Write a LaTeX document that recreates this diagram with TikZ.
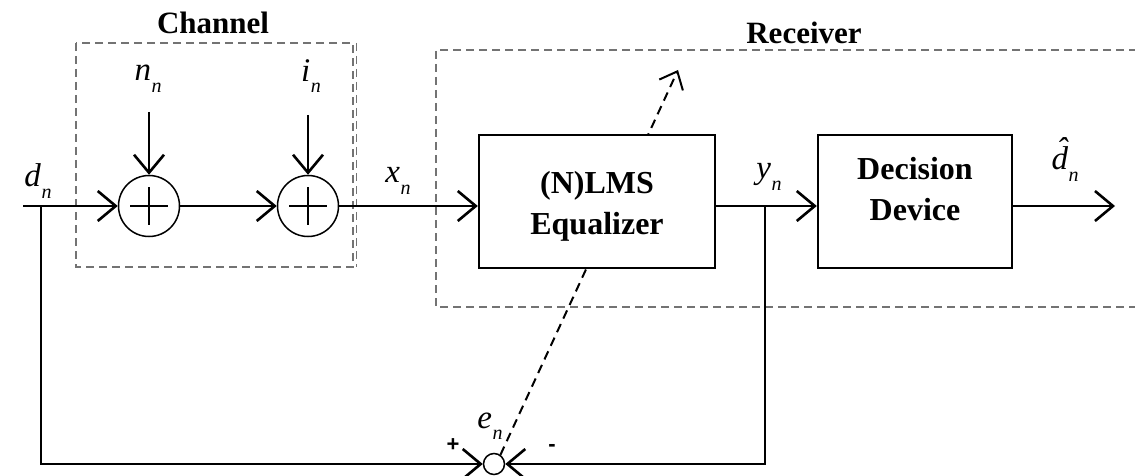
\documentclass[tikz,border=0pt]{standalone}
\usepackage{fontspec}
\setmainfont{Liberation Serif}
\newfontfamily\sansf{Liberation Sans}
\usetikzlibrary{arrows.meta}
\newcommand\lbl[2]{\textit{#1}\kern0.5pt\raisebox{-0.35em}{\fontsize{20}{20}\selectfont\textit{#2}}}
\newcommand\hatd{\ooalign{\textit{d}\cr\hidewidth\kern4pt\raisebox{0.28em}{\textit{\char"02C6}}\hidewidth\cr}}
\begin{document}
\begin{tikzpicture}[x=1pt,y=-1pt,
  tip/.style={-{Straight Barb[length=18pt,width=30pt,line width=2.6pt]}},
  sig/.style={line width=2.8pt,tip},
  fb/.style={line width=2.5pt,tip},
  grpbox/.style={draw=black!55,line width=1.9pt,dash pattern=on 8pt off 5pt},
  blk/.style={draw,line width=2.4pt,fill=white,rectangle},
  blktext/.style={font=\fontsize{32}{41}\selectfont\bfseries,align=center},
  title/.style={font=\fontsize{31}{31}\selectfont\bfseries},
  adder/.style={draw,circle,line width=1.5pt,minimum size=61pt,inner sep=0pt},
  mlbl/.style={font=\fontsize{33}{33}\selectfont,inner sep=0pt},
  sgn/.style={font=\sansf\bfseries\fontsize{22}{22}\selectfont,inner sep=0pt},
  adapt/.style={line width=2pt,dash pattern=on 9pt off 6pt,
     -{Straight Barb[length=15pt,width=26pt,line width=2pt]}}]
\useasboundingbox (0,0) rectangle (1135,476);
\clip (0,0) rectangle (1135,476);

% group boxes
\draw[grpbox] (76,43) rectangle (353,267);
\draw[grpbox] (356.5,43) -- (356.5,267);
\node[title] (chan) at (213,23) {Channel};
\draw[grpbox] (1150,50) -- (436,50) -- (436,307) -- (1150,307);
\node[title] (recv) at (804,33) {Receiver};

% adders
\node[adder] (a1) at (149,206) {};
\node[adder] (a2) at (308,206) {};
\foreach \a in {a1,a2}{
  \draw[line width=1.8pt] (\a.center) +(-19,0) -- +(19,0);
  \draw[line width=1.8pt] (\a.center) +(0,-19) -- +(0,19);
}
\node[draw,circle,line width=1.5pt,minimum size=21pt,inner sep=0pt] (ec) at (494,464) {};

% adaptation arrow (behind equalizer box)
\coordinate (adtip) at (678,70);
\draw[adapt] (ec.55) -- (adtip);

% blocks
\node[blk,minimum width=236pt,minimum height=133pt] (eq) at (597,201.5) {};
\node[blktext] (eqt) at (597,206) {(N)LMS\\Equalizer};
\node[blk,minimum width=194pt,minimum height=133pt] (dd) at (915,201.5) {};
\node[blktext] (ddt) at (915,189) {Decision\\Device};

% coordinates
\coordinate (din) at (23,206);
\coordinate (jd) at (41,206);
\coordinate (jy) at (765,206);
\coordinate (dout) at (1115,206);
\coordinate (nin) at (149,112);
\coordinate (iin) at (308,115);

% signal path
\draw[sig] (din) -- (a1);
\draw[sig] (a1) -- (a2);
\draw[sig] (nin) -- (a1);
\draw[sig] (iin) -- (a2);
\draw[sig] (a2) -- (eq.west |- a2);
\draw[sig] (eq.east |- jy) -- (dd.west |- jy);
\draw[sig] (dd.east |- dout) -- (dout);

% feedback
\draw[fb] (jd) -- (jd |- ec) -- (ec.west);
\draw[fb] (jy) -- (jy |- ec) -- (ec.east);

% labels
\node[mlbl] (ldn) at (38,181) {\lbl{d}{n}};
\node[mlbl] (lnn) at (148,79) {\lbl{n}{n}};
\node[mlbl] (lin) at (311,76) {\lbl{i}{n}};
\node[mlbl] (lxn) at (398,181) {\lbl{x}{n}};
\node[mlbl] (lyn) at (769,177) {\lbl{y}{n}};
\node[mlbl] (ldh) at (1065,164) {\lbl{\hatd}{n}};
\node[mlbl] (len) at (490,426) {\lbl{e}{n}};
\node[sgn] (plus) at (453,445) {+};
\node[sgn] (minus) at (552,448) {-};
\end{tikzpicture}
\end{document}
